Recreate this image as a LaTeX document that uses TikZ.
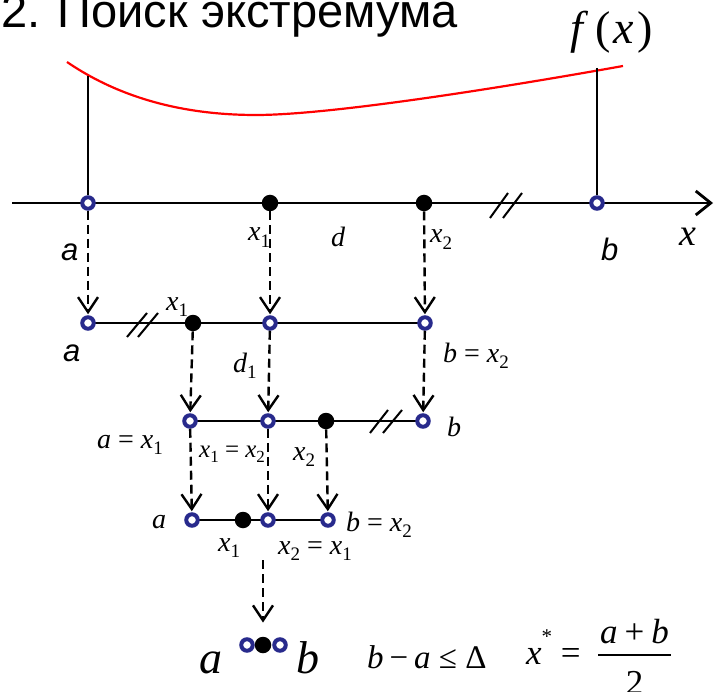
\documentclass[tikz,border=0pt]{standalone}
\usepackage{fontspec}
\usepackage{graphicx}
\setmainfont{Liberation Serif}
\newfontfamily\ari{Liberation Sans}
\usetikzlibrary{arrows.meta}
\definecolor{navy}{RGB}{40,42,140}
\newcommand\sbx[1]{\raisebox{-0.22em}{\scalebox{0.68}{\upshape #1}}}
\newcommand\eqs{\hspace{0.25em}{\upshape=}\hspace{0.25em}}
\newcommand\fsz[1]{\fontsize{#1}{#1}\selectfont}
\tikzset{
  bd/.style={circle, draw=navy, line width=4pt, fill=white, inner sep=0pt, minimum size=11.5pt},
  kd/.style={circle, fill=black, inner sep=0pt, minimum size=16.5pt},
  mlbl/.style={inner sep=0pt, anchor=base west, font=\itshape\fsz{28}},
  slbl/.style={inner sep=0pt, anchor=base west, font=\ari\itshape\fsz{31}},
  darr/.style={line width=2.4pt, dash pattern=on 9pt off 5pt, shorten >=1pt,
    -{Straight Barb[length=15pt,width=20pt]}},
  slash/.style={line width=2pt},
  rowline/.style={line width=2pt},
}
\begin{document}
\begin{tikzpicture}[x=1pt,y=-1pt]
\useasboundingbox (0,0) rectangle (714,692);
% title
\node[inner sep=0pt, anchor=base west, font=\ari\fsz{47}] (title) at (1,28) {2. Поиск экстремума};
\node[inner sep=0pt, anchor=base west, font=\fsz{46}] (fx) at (570,44) {\itshape f\hspace{0.28em}{\upshape(}\hspace{0.06em}x\hspace{0.06em}{\upshape)}};
% curve
\draw[red, line width=2.2pt] (67,62) .. controls (130,105) and (200,115) .. (256,115)
  .. controls (330,115) and (500,88) .. (623,66);
\coordinate (fa) at (88,76);
\coordinate (fb) at (597,68);
% axis
\coordinate (axs) at (12,203);
\coordinate (axe) at (713,203);
\draw[line width=2.8pt, -{Straight Barb[length=15pt,width=24pt]}] (axs) -- (axe);
\node[bd] (r1a) at (88,203) {};
\node[kd] (r1p) at (270,203) {};
\node[kd] (r1q) at (424,203) {};
\node[bd] (r1b) at (597,203) {};
\draw[line width=1.5pt] (fa) -- (r1a);
\draw[line width=1.5pt] (fb) -- (r1b);
\draw[slash] (490,218) -- (508,193);
\draw[slash] (503,218) -- (522,193);
\node[slbl] (la1) at (61,261) {a};
\node[mlbl] (lx11) at (248,241) {x\sbx{1}};
\node[mlbl] (ld) at (331,247) {d};
\node[mlbl] (lx21) at (430,243) {x\sbx{2}};
\node[slbl] (lb1) at (601,261) {b};
\node[mlbl, font=\itshape\fsz{38}] (lx) at (679,246) {x};
% row 2
\coordinate (r2s) at (88,323);
\coordinate (r2e) at (425,323);
\draw[rowline] (r2s) -- (r2e);
\draw[slash] (127,337) -- (147,313);
\draw[slash] (138,337) -- (158,313);
\node[bd] (r2a) at (88,323) {};
\node[kd] (r2p) at (193,323) {};
\node[bd] (r2m) at (270,323) {};
\node[bd] (r2b) at (425,323) {};
\node[slbl] (la2) at (63,361) {a};
\node[mlbl] (lx12) at (166,310) {x\sbx{1}};
\node[mlbl] (ld1) at (233,372) {d\sbx{1}};
\node[mlbl] (lb2) at (443,362) {b\eqs x\sbx{2}};
% row 3
\coordinate (r3s) at (190,421);
\coordinate (r3e) at (423,421);
\draw[rowline] (r3s) -- (r3e);
\draw[slash] (370,433) -- (388,410);
\draw[slash] (383,433) -- (402,410);
\node[bd] (r3a) at (190,421) {};
\node[bd] (r3m) at (268,421) {};
\node[kd] (r3q) at (326,421) {};
\node[bd] (r3b) at (423,421) {};
\node[mlbl] (la3) at (97,448) {a\eqs x\sbx{1}};
\node[mlbl, font=\itshape\fsz{25}] (lx13) at (199,457) {x\sbx{1}\eqs x\sbx{2}};
\node[mlbl] (lx23) at (293,460) {x\sbx{2}};
\node[mlbl] (lb3) at (447,436) {b};
% row 4
\coordinate (r4s) at (192,520);
\coordinate (r4e) at (328,520);
\draw[rowline] (r4s) -- (r4e);
\node[bd] (r4a) at (192,520) {};
\node[kd] (r4p) at (243,520) {};
\node[bd] (r4m) at (268,520) {};
\node[bd] (r4b) at (328,520) {};
\node[mlbl] (la4) at (152,528) {a};
\node[mlbl] (lb4) at (346,531) {b\eqs x\sbx{2}};
\node[mlbl] (lx14) at (218,551) {x\sbx{1}};
\node[mlbl] (lx24) at (278,554) {x\sbx{2}\eqs x\sbx{1}};
% row 5
\node[bd] (r5a) at (247,645) {};
\node[bd] (r5b) at (280,645) {};
\node[kd] (r5k) at (263,645) {};
\node[mlbl, font=\itshape\fsz{46}] (la5) at (199,673) {a};
\node[mlbl, font=\itshape\fsz{46}] (lb5) at (296,673) {b};
\node[mlbl, font=\itshape\fsz{33}] (cond) at (367,668) {b\hspace{0.18em}{\upshape −}\hspace{0.18em}a\hspace{0.25em}{\upshape ≤}\hspace{0.25em}{\upshape Δ}};
\node[mlbl, font=\itshape\fsz{35}] (xs) at (526,664) {x\raisebox{0.6em}{\scalebox{0.6}{\upshape *}}\eqs};
\node[inner sep=0pt, anchor=base, font=\itshape\fsz{35}] (num) at (634.5,643) {a\hspace{0.2em}{\upshape +}\hspace{0.2em}b};
\node[inner sep=0pt, anchor=base, font=\fsz{35}] (den) at (634.5,694) {2};
\coordinate (fbs) at (598,655);
\coordinate (fbe) at (671,655);
\draw[line width=1.8pt] (fbs) -- (fbe);
% arrows
\draw[darr] (r1a) -- (r2a);
\draw[darr] (r1p) -- (r2m);
\draw[darr] (r1q) -- (r2b);
\draw[darr] (r2p) -- (r3a);
\draw[darr] (r2m) -- (r3m);
\draw[darr] (r2b) -- (r3b);
\draw[darr] (r3a) -- (r4a);
\draw[darr] (r3m) -- (r4m);
\draw[darr] (r3q) -- (r4b);
\coordinate (s5) at (263,560);
\draw[darr, shorten >=14pt] (s5) -- (r5k);
\end{tikzpicture}
\end{document}
